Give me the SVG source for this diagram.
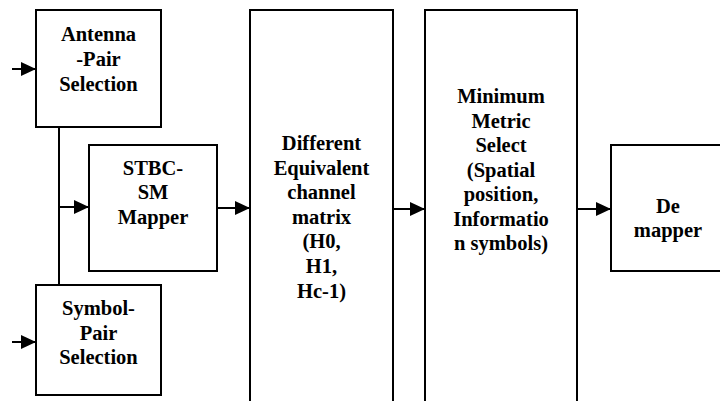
<svg xmlns="http://www.w3.org/2000/svg" width="720" height="401" viewBox="0 0 720 401">
<style>
.box{fill:#fff;stroke:#000;stroke-width:2}
.lbl{font-family:'Liberation Serif','Times New Roman','DejaVu Serif',Times,serif;font-weight:700;font-size:20.5px;text-anchor:middle;fill:#000}
.con{fill:none;stroke:#000;stroke-width:2}
</style>
<defs>
<marker id="ah" markerUnits="userSpaceOnUse" markerWidth="16" markerHeight="14" refX="15" refY="7" orient="auto">
<path d="M0,0 L15,7 L0,14 Z" fill="#000"/>
</marker>
</defs>
<rect width="720" height="401" fill="#fff"/>
<g id="antenna">
<rect class="box" x="36" y="10" width="125" height="117"/>
<text class="lbl" font-family="Liberation Serif, serif" x="98.5" y="41">Antenna</text>
<text class="lbl" font-family="Liberation Serif, serif" x="98.5" y="66">-Pair</text>
<text class="lbl" font-family="Liberation Serif, serif" x="98.5" y="91">Selection</text>
</g>
<g id="symbol">
<rect class="box" x="36" y="285" width="125" height="110"/>
<text class="lbl" x="98.5" y="315">Symbol-</text>
<text class="lbl" x="98.5" y="340">Pair</text>
<text class="lbl" x="98.5" y="364">Selection</text>
</g>
<g id="stbc">
<rect class="box" x="89" y="145" width="128" height="126"/>
<text class="lbl" x="153" y="175">STBC-</text>
<text class="lbl" x="153" y="199">SM</text>
<text class="lbl" x="153" y="224">Mapper</text>
</g>
<g id="channel">
<rect class="box" x="250" y="10" width="143" height="400"/>
<text class="lbl" x="321.5" y="150">Different</text>
<text class="lbl" x="321.5" y="174.5">Equivalent</text>
<text class="lbl" x="321.5" y="199">channel</text>
<text class="lbl" x="321.5" y="223.5">matrix</text>
<text class="lbl" x="321.5" y="248">(H0,</text>
<text class="lbl" x="321.5" y="273">H1,</text>
<text class="lbl" x="321.5" y="297.5">Hc-1)</text>
</g>
<g id="metric">
<rect class="box" x="425" y="10" width="152" height="400"/>
<text class="lbl" x="501" y="103">Minimum</text>
<text class="lbl" x="501" y="128">Metric</text>
<text class="lbl" x="501" y="152">Select</text>
<text class="lbl" x="501" y="177">(Spatial</text>
<text class="lbl" x="501" y="201">position,</text>
<text class="lbl" x="501" y="226">Informatio</text>
<text class="lbl" x="501" y="250">n symbols)</text>
</g>
<g id="demapper">
<rect class="box" x="611" y="145" width="115" height="126"/>
<text class="lbl" x="668" y="213">De</text>
<text class="lbl" x="668" y="237">mapper</text>
</g>
<g id="connectors">
<line class="con" x1="12" y1="69" x2="36" y2="69" marker-end="url(#ah)"/>
<line class="con" x1="12" y1="342" x2="36" y2="342" marker-end="url(#ah)"/>
<line class="con" x1="59" y1="127" x2="59" y2="285"/>
<line class="con" x1="59" y1="207" x2="89" y2="207" marker-end="url(#ah)"/>
<line class="con" x1="217" y1="208" x2="250" y2="208" marker-end="url(#ah)"/>
<line class="con" x1="393" y1="209" x2="425" y2="209" marker-end="url(#ah)"/>
<line class="con" x1="577" y1="209" x2="611" y2="209" marker-end="url(#ah)"/>
</g>
</svg>
